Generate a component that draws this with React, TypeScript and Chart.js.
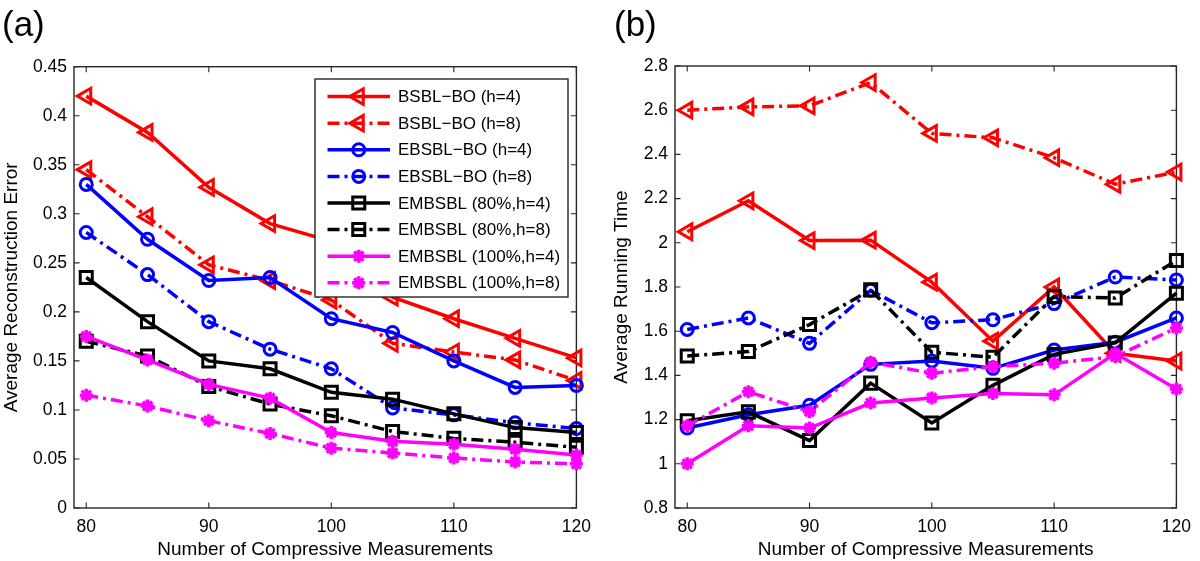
import React, { useEffect, useRef } from 'react';
import { Chart, registerables } from 'chart.js';
import { drawPoint } from 'chart.js/helpers';

Chart.register(...registerables);

const FONT = '"Liberation Sans", Arial, Helvetica, sans-serif';

// ---- data ----
const xValues = [80, 85, 90, 95, 100, 105, 110, 115, 120];
const xTicks = [80, 90, 100, 110, 120];
const errorTicks = [0, 0.05, 0.1, 0.15, 0.2, 0.25, 0.3, 0.35, 0.4, 0.45];
const timeTicks = [0.8, 1, 1.2, 1.4, 1.6, 1.8, 2, 2.2, 2.4, 2.6, 2.8];

const seriesNames = [
  'BSBL\u2212BO (h=4)',
  'BSBL\u2212BO (h=8)',
  'EBSBL\u2212BO (h=4)',
  'EBSBL\u2212BO (h=8)',
  'EMBSBL (80%,h=4)',
  'EMBSBL (80%,h=8)',
  'EMBSBL (100%,h=4)',
  'EMBSBL (100%,h=8)',
];

// (a) Average Reconstruction Error
const bsbl4Error = [0.42, 0.383, 0.327, 0.29, 0.272, 0.215, 0.193, 0.173, 0.153];
const bsbl8Error = [0.345, 0.297, 0.248, 0.232, 0.212, 0.168, 0.159, 0.151, 0.13];
const ebsbl4Error = [0.33, 0.274, 0.232, 0.235, 0.193, 0.179, 0.15, 0.123, 0.125];
const ebsbl8Error = [0.281, 0.238, 0.19, 0.162, 0.142, 0.102, 0.095, 0.087, 0.081];
const emb80h4Error = [0.235, 0.19, 0.15, 0.142, 0.118, 0.111, 0.096, 0.082, 0.077];
const emb80h8Error = [0.17, 0.155, 0.124, 0.106, 0.094, 0.078, 0.071, 0.067, 0.062];
const emb100h4Error = [0.175, 0.151, 0.126, 0.112, 0.077, 0.068, 0.065, 0.06, 0.054];
const emb100h8Error = [0.115, 0.104, 0.089, 0.076, 0.061, 0.056, 0.051, 0.047, 0.045];

// (b) Average Running Time
const bsbl4Time = [2.05, 2.19, 2.01, 2.012, 1.822, 1.555, 1.8, 1.5, 1.465];
const bsbl8Time = [2.6, 2.615, 2.62, 2.725, 2.495, 2.475, 2.385, 2.265, 2.32];
const ebsbl4Time = [1.162, 1.222, 1.265, 1.45, 1.465, 1.432, 1.515, 1.55, 1.66];
const ebsbl8Time = [1.608, 1.66, 1.545, 1.785, 1.638, 1.652, 1.725, 1.845, 1.832];
const emb80h4Time = [1.195, 1.235, 1.105, 1.365, 1.185, 1.355, 1.495, 1.547, 1.772];
const emb80h8Time = [1.488, 1.508, 1.63, 1.787, 1.505, 1.482, 1.757, 1.75, 1.92];
const emb100h4Time = [1.0, 1.172, 1.162, 1.275, 1.298, 1.318, 1.312, 1.5, 1.338];
const emb100h8Time = [1.172, 1.326, 1.236, 1.46, 1.41, 1.44, 1.455, 1.485, 1.615];

const errorSeries = [bsbl4Error, bsbl8Error, ebsbl4Error, ebsbl8Error, emb80h4Error, emb80h8Error, emb100h4Error, emb100h8Error];
const timeSeries = [bsbl4Time, bsbl8Time, ebsbl4Time, ebsbl8Time, emb80h4Time, emb80h8Time, emb100h4Time, emb100h8Time];

// ---- styles ----
const DASHDOT = [12, 5, 3, 5];
const seriesStyles = [
  { color: '#ff0000', dash: [] as number[], point: 'triangle', rotation: -90, radius: 9 },
  { color: '#ff0000', dash: DASHDOT, point: 'triangle', rotation: -90, radius: 9 },
  { color: '#0000ff', dash: [] as number[], point: 'circle', rotation: 0, radius: 6 },
  { color: '#0000ff', dash: DASHDOT, point: 'circle', rotation: 0, radius: 6 },
  { color: '#000000', dash: [] as number[], point: 'rect', rotation: 0, radius: 8.5 },
  { color: '#000000', dash: DASHDOT, point: 'rect', rotation: 0, radius: 8.5 },
  { color: '#ff00ff', dash: [] as number[], point: 'star', rotation: 0, radius: 6.5 },
  { color: '#ff00ff', dash: DASHDOT, point: 'star', rotation: 0, radius: 6.5 },
];

function makeDatasets(series: number[][]) {
  return series.map((vals, i) => {
    const s = seriesStyles[i];
    return {
      label: seriesNames[i],
      data: xValues.map((x, j) => ({ x, y: vals[j] })),
      borderColor: s.color,
      backgroundColor: 'rgba(0,0,0,0)',
      borderWidth: 3.5,
      borderDash: s.dash,
      pointStyle: s.point,
      pointRotation: s.rotation,
      pointRadius: s.radius,
      pointBorderWidth: s.point === 'star' ? 3.5 : 3,
      pointBorderColor: s.color,
      pointBackgroundColor: 'rgba(0,0,0,0)',
      tension: 0,
      clip: false as any,
      order: -i,
    };
  });
}

const fmt = (v: number) => String(parseFloat(Number(v).toFixed(2)));

const framePlugin = {
  id: 'frame',
  beforeDatasetsDraw(chart: any) {
    const { ctx, chartArea } = chart;
    const { left, right, top, bottom } = chartArea;
    const xs = chart.scales.x;
    const ys = chart.scales.y;
    ctx.save();
    ctx.strokeStyle = '#262626';
    ctx.lineWidth = 1.4;
    ctx.setLineDash([]);
    ctx.strokeRect(left, top, right - left, bottom - top);
    ctx.lineWidth = 1.1;
    const tl = 5.5;
    ctx.beginPath();
    xs.ticks.forEach((t: any) => {
      const px = xs.getPixelForValue(t.value);
      ctx.moveTo(px, bottom);
      ctx.lineTo(px, bottom - tl);
      ctx.moveTo(px, top);
      ctx.lineTo(px, top + tl);
    });
    ys.ticks.forEach((t: any) => {
      const py = ys.getPixelForValue(t.value);
      ctx.moveTo(left, py);
      ctx.lineTo(left + tl, py);
      ctx.moveTo(right, py);
      ctx.lineTo(right - tl, py);
    });
    ctx.stroke();
    ctx.restore();
  },
  afterDatasetsDraw(chart: any, _args: any, opts: any) {
    if (!opts || !opts.legend) return;
    const { ctx } = chart;
    const box = opts.legend;
    ctx.save();
    ctx.fillStyle = '#ffffff';
    ctx.fillRect(box.left, box.top, box.right - box.left, box.bottom - box.top);
    ctx.strokeStyle = '#262626';
    ctx.lineWidth = 1.4;
    ctx.setLineDash([]);
    ctx.strokeRect(box.left, box.top, box.right - box.left, box.bottom - box.top);
    chart.data.datasets.forEach((ds: any, i: number) => {
      const y = box.firstRow + i * box.rowGap;
      ctx.save();
      ctx.strokeStyle = ds.borderColor;
      ctx.lineWidth = ds.borderWidth;
      ctx.setLineDash(ds.borderDash || []);
      ctx.beginPath();
      ctx.moveTo(box.lineStart, y);
      ctx.lineTo(box.lineEnd, y);
      ctx.stroke();
      ctx.setLineDash([]);
      ctx.strokeStyle = ds.pointBorderColor;
      ctx.fillStyle = 'rgba(0,0,0,0)';
      ctx.lineWidth = ds.pointBorderWidth;
      drawPoint(ctx, { pointStyle: ds.pointStyle, rotation: ds.pointRotation, radius: ds.pointRadius, borderWidth: ds.pointBorderWidth } as any, (box.lineStart + box.lineEnd) / 2, y);
      ctx.restore();
      ctx.fillStyle = '#000000';
      ctx.font = `${box.fontSize}px ${FONT}`;
      ctx.textAlign = 'left';
      ctx.textBaseline = 'middle';
      ctx.fillText(ds.label, box.textX, y + 1);
    });
    ctx.restore();
  },
  afterDraw(chart: any, _args: any, opts: any) {
    if (!opts || !opts.panelLabel) return;
    const { ctx } = chart;
    ctx.save();
    ctx.fillStyle = '#000000';
    ctx.font = `${opts.panelFontSize}px ${FONT}`;
    ctx.textAlign = 'left';
    ctx.textBaseline = 'middle';
    ctx.fillText(opts.panelLabel, opts.panelX, opts.panelY);
    ctx.restore();
  },
};

function buildConfig(p: any) {
  const tickFont = { family: FONT, size: 17.5 };
  const titleFont = { family: FONT, size: 19 };
  return {
    type: 'line',
    data: { datasets: makeDatasets(p.series) },
    plugins: [framePlugin],
    options: {
      animation: false,
      responsive: false,
      devicePixelRatio: 1,
      events: [],
      layout: { padding: p.padding },
      plugins: {
        legend: { display: false },
        tooltip: { enabled: false },
        title: { display: false },
        frame: p.frame,
      },
      scales: {
        x: {
          type: 'linear',
          min: 79,
          max: 120,
          afterBuildTicks: (s: any) => { s.ticks = xTicks.map((v) => ({ value: v })); },
          afterFit: (s: any) => { s.height = p.xHeight; },
          grid: { display: false, drawTicks: false },
          border: { display: false },
          ticks: { font: tickFont, color: '#000', padding: 9, autoSkip: false, maxRotation: 0, callback: (v: any) => fmt(v) },
          title: { display: true, text: 'Number of Compressive Measurements', font: titleFont, color: '#000', padding: 0 },
        },
        y: {
          type: 'linear',
          min: p.yMin,
          max: p.yMax,
          afterBuildTicks: (s: any) => { s.ticks = p.yTicks.map((v: number) => ({ value: v })); },
          afterFit: (s: any) => { s.width = p.yWidth; },
          grid: { display: false, drawTicks: false },
          border: { display: false },
          ticks: { font: tickFont, color: '#000', padding: 7, autoSkip: false, callback: (v: any) => fmt(v) },
          title: { display: true, text: p.yTitle, font: titleFont, color: '#000', padding: 0 },
        },
      },
    },
  };
}

function ChartPanel({ config, left }: { config: any; left: number }) {
  const ref = useRef<HTMLCanvasElement | null>(null);
  useEffect(() => {
    if (!ref.current) return;
    const chart = new Chart(ref.current, config);
    return () => chart.destroy();
  }, [config]);
  return (
    <canvas
      ref={ref}
      width={600}
      height={561}
      style={{ position: 'absolute', left, top: 0, width: 600, height: 561 }}
    />
  );
}

const configA = buildConfig({
  series: errorSeries,
  yMin: 0,
  yMax: 0.45,
  yTicks: errorTicks,
  yTitle: 'Average Reconstruction Error',
  padding: { left: 0, right: 21.7, top: 66.7, bottom: 0 },
  yWidth: 74,
  xHeight: 53,
  frame: {
    panelLabel: '(a)',
    panelX: 2,
    panelY: 26.5,
    panelFontSize: 35,
    legend: {
      left: 315,
      top: 79,
      right: 568,
      bottom: 297,
      firstRow: 96.6,
      rowGap: 26.6,
      lineStart: 327.5,
      lineEnd: 390,
      textX: 398,
      fontSize: 17,
    },
  },
});

const configB = buildConfig({
  series: timeSeries,
  yMin: 0.8,
  yMax: 2.8,
  yTicks: timeTicks,
  yTitle: 'Average Running Time',
  padding: { left: 10.6, right: 23.3, top: 66, bottom: 0 },
  yWidth: 64.4,
  xHeight: 53,
  frame: {
    panelLabel: '(b)',
    panelX: 14,
    panelY: 26.5,
    panelFontSize: 35,
  },
});

export default function App() {
  return (
    <div style={{ position: 'absolute', left: 0, top: 0, width: 1200, height: 561, background: '#fff' }}>
      <ChartPanel config={configA} left={0} />
      <ChartPanel config={configB} left={600} />
    </div>
  );
}
